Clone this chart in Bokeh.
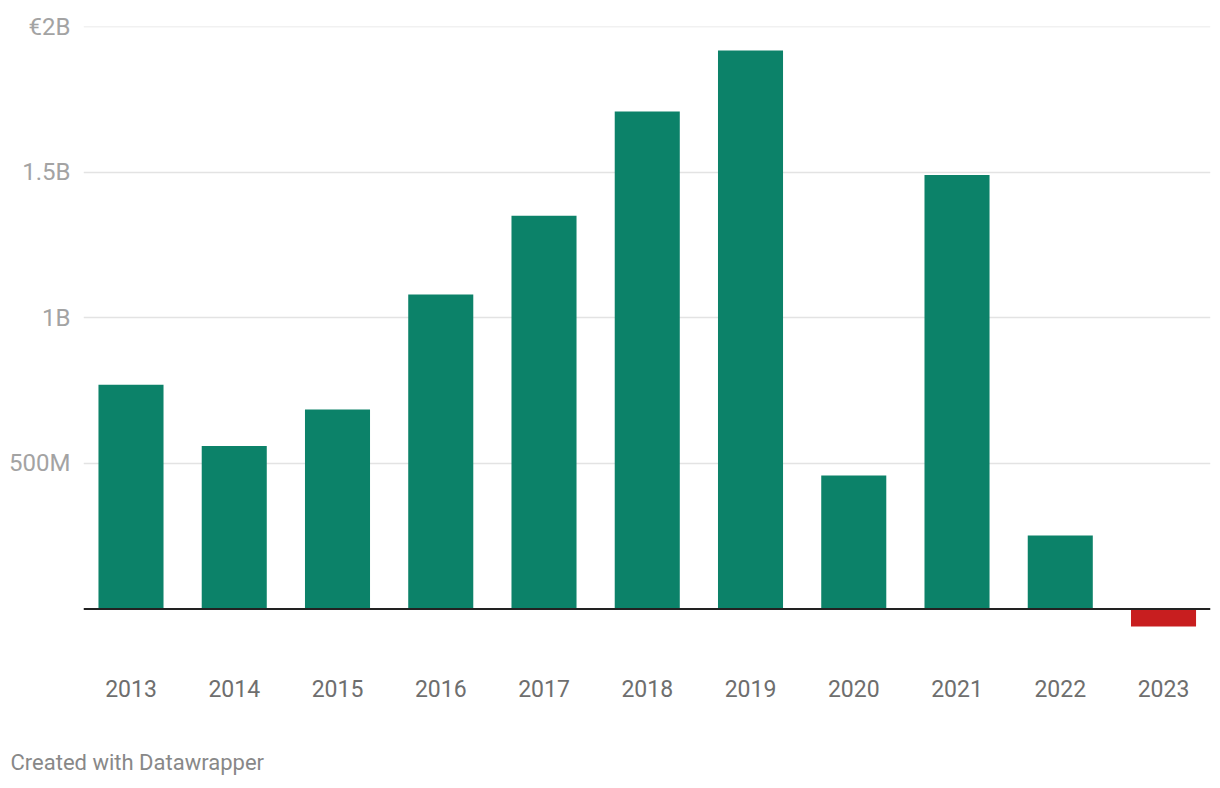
from bokeh.plotting import figure
from bokeh.models import Range1d, Span, Title, FixedTicker, ColumnDataSource
from bokeh.embed import file_html
from bokeh.resources import INLINE

years = ["2013", "2014", "2015", "2016", "2017", "2018", "2019", "2020", "2021", "2022", "2023"]
values = [0.770e9, 0.560e9, 0.685e9, 1.080e9, 1.350e9, 1.708e9, 1.918e9, 0.458e9, 1.490e9, 0.252e9, -0.060e9]
y_ticks = [0.5e9, 1.0e9, 1.5e9, 2.0e9]
y_tick_labels = ["500M", "1B", "1.5B", "€2B"]

POS = "#0c8269"
NEG = "#c81e1f"

xs = list(range(len(years)))
colors = [POS if v >= 0 else NEG for v in values]
src = ColumnDataSource(dict(x=xs, top=values, color=colors))

X0, X1 = -0.46, len(years) - 1 + 0.455
p = figure(width=1212, height=776, output_backend="svg", toolbar_location=None,
           x_range=Range1d(X0, X1),
           y_range=Range1d(-0.1356e9, 2.0e9),
           min_border_left=83, min_border_right=2, min_border_top=26, min_border_bottom=128)
p.outline_line_color = None
p.background_fill_color = "white"
p.border_fill_color = "white"

p.vbar(x="x", top="top", bottom=0, width=0.63, color="color", source=src, line_color=None)

p.add_layout(Span(location=0, dimension="width", line_color="#222222", line_width=2))
p.add_layout(Span(location=2.0e9, dimension="width", line_color="#e3e3e3", line_width=1.5))

# x axis
p.xaxis.ticker = FixedTicker(ticks=xs)
p.xaxis.major_label_overrides = {i: y for i, y in enumerate(years)}
p.xaxis.axis_line_color = None
p.xaxis.major_tick_line_color = None
p.xaxis.minor_tick_line_color = None
p.xaxis.major_label_standoff = 25
p.xaxis.major_label_text_font = "Roboto"
p.xaxis.major_label_text_font_size = "23px"
p.xaxis.major_label_text_color = "#6e6e6e"
p.xgrid.grid_line_color = None

# y axis
p.yaxis.ticker = FixedTicker(ticks=y_ticks)
p.yaxis.major_label_overrides = {t: l for t, l in zip(y_ticks, y_tick_labels)}
p.yaxis.axis_line_color = None
p.yaxis.major_tick_line_color = None
p.yaxis.minor_tick_line_color = None
p.yaxis.major_label_standoff = 7
p.yaxis.major_label_text_font = "Roboto"
p.yaxis.major_label_text_font_size = "24px"
p.yaxis.major_label_text_color = "#a3a3a3"
p.ygrid.grid_line_color = "#e3e3e3"
p.ygrid.grid_line_width = 1.5

# spacer, then credit line
p.add_layout(Title(text=" ", text_font_size="10px", standoff=35), "below")
p.add_layout(Title(text="Created with Datawrapper", align="left", offset=-73, standoff=0,
                   text_font="Roboto", text_font_size="22px", text_font_style="normal",
                   text_color="#888888"), "below")

open("out.html", "w").write(file_html(p, INLINE))
